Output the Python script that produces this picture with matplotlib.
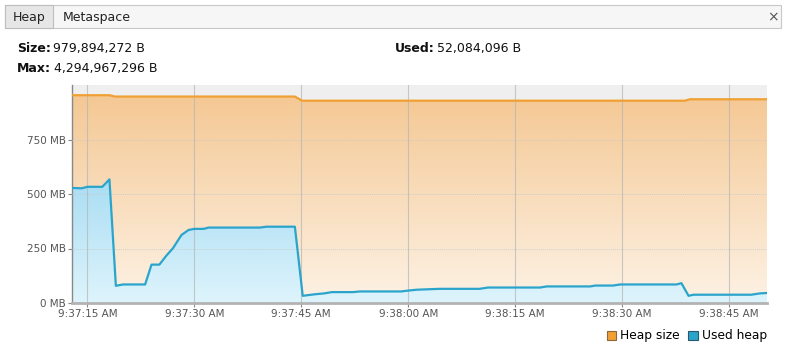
import numpy as np
import matplotlib
matplotlib.use('Agg')
import matplotlib.pyplot as plt
from matplotlib.colors import LinearSegmentedColormap
from matplotlib.patches import Rectangle, Patch

# ---- data (seconds after 9:37:15 AM, values in MB) ----
heap_t = [-2.15, 3.1, 3.9, 29.1, 30.1, 83.8, 84.5, 95.3]
heap_mb = [953, 953, 947, 947, 928, 928, 934.5, 934.5]

used_t = [-2.15, -0.8, 0.0, 2.1, 3.1, 4.0, 5.0, 8.1, 9.0, 10.1, 11.1, 12.0,
          13.2, 14.2, 15.0, 16.3, 17.0, 24.2, 25.1, 29.1, 30.2, 31.9, 33.2,
          34.3, 37.3, 38.2, 44.0, 45.0, 46.2, 49.4, 55.0, 56.2, 63.5, 64.4,
          70.5, 71.2, 73.7, 74.7, 82.6, 83.3, 84.3, 85.0, 93.1, 94.3, 95.3]
used_mb = [528, 526, 533, 533, 567, 79, 85, 85, 176, 176, 218, 251,
           312, 335, 340, 340, 346, 346, 350, 350, 33, 40, 44,
           50, 50, 53, 53, 57, 61, 65, 65, 71, 71, 76,
           76, 80, 80, 85, 85, 91, 33, 38, 38, 44, 46]

x_ticks = [0, 15, 30, 45, 60, 75, 90]
x_labels = ['9:37:15 AM', '9:37:30 AM', '9:37:45 AM', '9:38:00 AM',
            '9:38:15 AM', '9:38:30 AM', '9:38:45 AM']
y_ticks = [0, 250, 500, 750]
y_labels = ['0 MB', '250 MB', '500 MB', '750 MB']

series_names = ['Heap size', 'Used heap']

header_size = '979,894,272 B'
header_max = '4,294,967,296 B'
header_used = '52,084,096 B'

X0, X1 = -2.15, 95.3
YMAX = 1000

plt.rcParams['font.family'] = ['DejaVu Sans']

fig = plt.figure(figsize=(7.85, 3.48), dpi=100)
fig.patch.set_facecolor('white')

# ---- window chrome (pixel coordinates) ----
ov = fig.add_axes([0, 0, 1, 1], zorder=0)
ov.set_xlim(0, 785)
ov.set_ylim(348, 0)
ov.axis('off')
ov.add_patch(Rectangle((5, 5), 776, 23, fc='#f6f6f6', ec='#c8c8c8', lw=0.8))
ov.add_patch(Rectangle((5, 5), 48, 23, fc='#e6e6e6', ec='#bdbdbd', lw=0.8))
ov.text(29, 17.5, 'Heap', ha='center', va='center', fontsize=9, color='#222222')
ov.text(63, 17.5, 'Metaspace', ha='left', va='center', fontsize=9, color='#222222')
ov.text(773, 17.5, '×', ha='center', va='center', fontsize=10, color='#555555')

renderer = fig.canvas.get_renderer()
tk = dict(va='center', fontsize=9, color='#111111')


def label_value(x, y, label, value):
    t = ov.text(x, y, label, fontweight='bold', **tk)
    bb = t.get_window_extent(renderer=renderer)
    ov.text(bb.x1 + 2.5, y, value, **tk)


label_value(17, 48.5, 'Size:', header_size)
label_value(17, 68.5, 'Max:', header_max)
label_value(395, 48.5, 'Used:', header_used)

# ---- chart ----
ax = fig.add_axes([72 / 785, 45 / 348, 695 / 785, 218 / 348], zorder=1)
ax.set_facecolor('#efefef')

grad = np.linspace(0, 1, 256).reshape(-1, 1)
orange_cmap = LinearSegmentedColormap.from_list('o', ['#fdf2e5', '#f4c690'])
blue_cmap = LinearSegmentedColormap.from_list('b', ['#def4fc', '#a6dcf3'])

opoly = ax.fill_between(heap_t, heap_mb, 0, color='none', lw=0)
oimg = ax.imshow(grad, extent=[X0, X1, 0, YMAX], aspect='auto', cmap=orange_cmap,
                 origin='lower', zorder=1, interpolation='bilinear')
oimg.set_clip_path(opoly.get_paths()[0], transform=ax.transData)

bpoly = ax.fill_between(used_t, used_mb, 0, color='none', lw=0)
bimg = ax.imshow(grad, extent=[X0, X1, 0, 600], aspect='auto', cmap=blue_cmap,
                 origin='lower', zorder=2, interpolation='bilinear')
bimg.set_clip_path(bpoly.get_paths()[0], transform=ax.transData)

for xt in x_ticks:
    ax.axvline(xt, color='#b5b5b5', lw=0.8, alpha=0.7, zorder=3)
for yt in y_ticks[1:]:
    ax.axhline(yt, color='#c8c8c8', lw=0.7, ls=(0, (1, 1)), alpha=0.8, zorder=3)

ax.plot(heap_t, heap_mb, color='#f0a033', lw=1.6, zorder=4, solid_joinstyle='round')
ax.plot(used_t, used_mb, color='#2ba4cc', lw=1.6, zorder=4, solid_joinstyle='round')

ax.set_xlim(X0, X1)
ax.set_ylim(0, YMAX)
ax.set_xticks(x_ticks)
ax.set_xticklabels(x_labels)
ax.set_yticks(y_ticks)
ax.set_yticklabels(y_labels)
ax.tick_params(axis='both', labelsize=7.5, labelcolor='#555555', color='#888888',
               length=3, width=0.8, pad=1.5)

for s in ['top', 'right']:
    ax.spines[s].set_visible(False)
ax.spines['left'].set_color('#888888')
ax.spines['left'].set_linewidth(1.0)
ax.spines['bottom'].set_color('#b3b3b3')
ax.spines['bottom'].set_linewidth(2.0)

handles = [Patch(facecolor='#f0a033', edgecolor='#8a6a3a', lw=0.8),
           Patch(facecolor='#2ba4cc', edgecolor='#2a5a70', lw=0.8)]
fig.legend(handles, series_names, loc='center right', bbox_to_anchor=(767 / 785, 1 - 336 / 348),
           ncol=2, frameon=False, fontsize=8.8, handlelength=0.75, handleheight=0.75,
           handletextpad=0.35, columnspacing=0.7, borderaxespad=0, borderpad=0)

fig.savefig('out.png', dpi=100, facecolor='white')
